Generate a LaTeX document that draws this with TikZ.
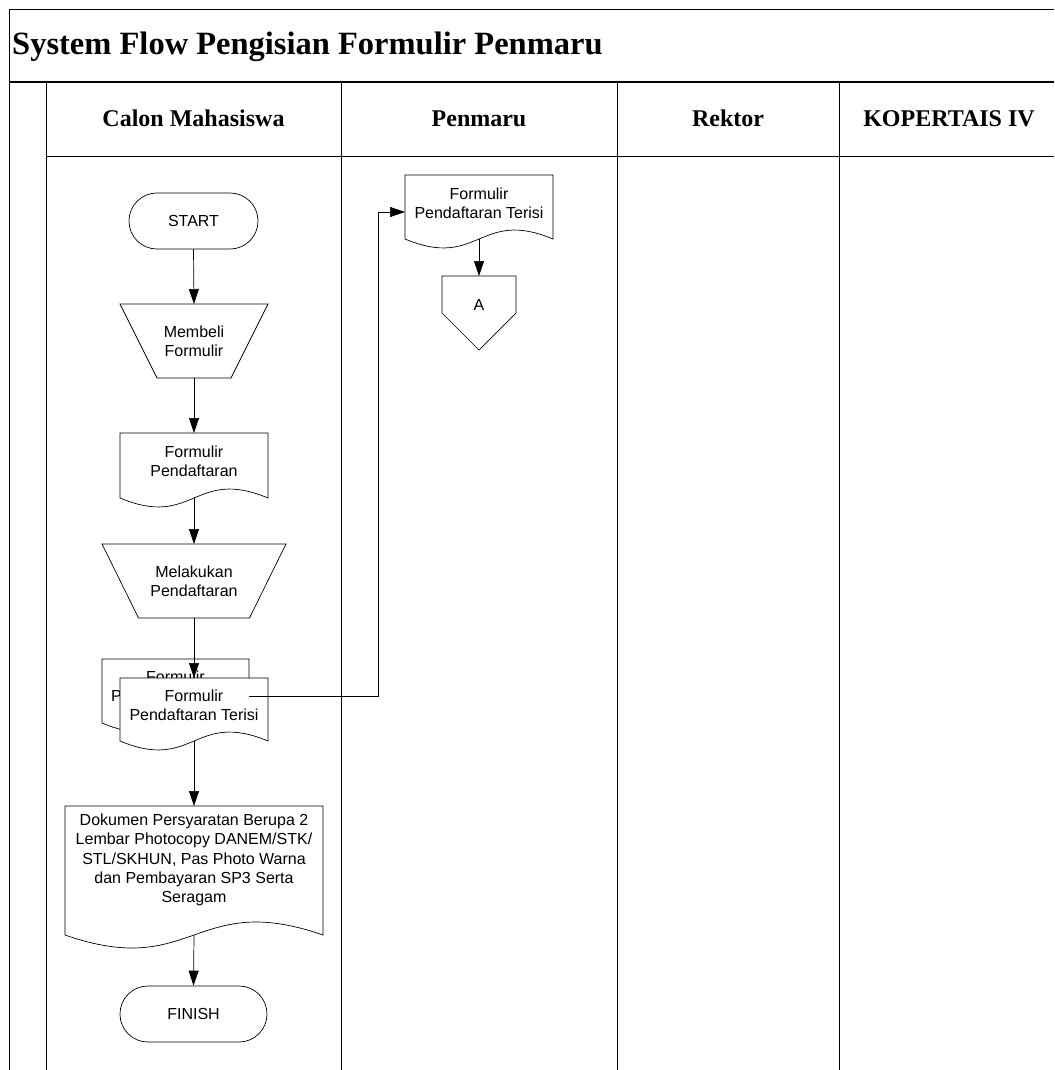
\documentclass[tikz,border=0pt]{standalone}
\usepackage{fontspec}
\setmainfont{Liberation Serif}
\newfontfamily\arialf{Liberation Sans}
\usetikzlibrary{arrows.meta,calc}
\newcommand\mydoc[2]{\path[shp] (#1.north west) -- (#1.north east) -- (#1.south east) .. controls ($(#1.south)+(0,-#2)$) and ($(#1.south)+(0,#2)$) .. (#1.south west) -- cycle;}
\newcommand\mymanop[2]{\path[shp] (#1.north west) -- (#1.north east) -- ($(#1.south east)+(-#2,0)$) -- ($(#1.south west)+(#2,0)$) -- cycle;}
\begin{document}
\begin{tikzpicture}[x=1pt,y=-1pt,
  frame/.style={line width=0.9pt,draw=black},
  shp/.style={draw=black,line width=0.7pt,fill=white},
  hold/.style={inner sep=0pt,outer sep=0pt},
  txt/.style={font=\arialf\fontsize{16}{19.2}\selectfont,align=center,inner sep=0pt},
  term/.style={shp,txt,rounded corners=27.9pt,minimum width=148pt,minimum height=56pt},
  hdr/.style={font=\bfseries\fontsize{24}{28}\selectfont,anchor=base,inner sep=0pt},
  arr/.style={draw=black,line width=0.7pt,-{Triangle[length=15pt,width=10pt]}}
]
\useasboundingbox (0,0) rectangle (1054,1070);
% frame and lanes
\draw[frame] (9,1070) -- (9,9) -- (1054,9);
\draw[line width=1.6pt] (9,82) -- (1054,82);
\draw[frame] (46,82) -- (46,1070);
\draw[frame] (46,156) -- (1054,156);
\draw[frame] (341,82) -- (341,1070);
\draw[frame] (617,82) -- (617,1070);
\draw[frame] (839,82) -- (839,1070);
\node[anchor=base west,inner sep=0pt,font=\bfseries\fontsize{32.5}{36}\selectfont] (title) at (12,55) {System Flow Pengisian Formulir Penmaru};
\node[hdr] (h1) at (193.5,127) {Calon Mahasiswa};
\node[hdr] (h2) at (479,127) {Penmaru};
\node[hdr] (h3) at (728,127) {Rektor};
\node[hdr] (h4) at (949,127) {KOPERTAIS IV};

% START
\node[term,minimum width=129pt] (start) at (193.5,221) {START};
% Membeli Formulir
\node[hold,minimum width=148pt,minimum height=74pt] (beli) at (194,341) {};
\mymanop{beli}{37}
\node[txt] (belit) at (beli.center) {Membeli\\Formulir};
% Formulir Pendaftaran
\node[hold,minimum width=148pt,minimum height=65pt] (fp) at (194,465.5) {};
\mydoc{fp}{31}
\node[txt] (fpt) at ($(fp.center)+(0,-4.5)$) {Formulir\\Pendaftaran};
% Melakukan Pendaftaran
\node[hold,minimum width=184pt,minimum height=74pt] (mel) at (194,581) {};
\mymanop{mel}{36.5}
\node[txt] (melt) at (mel.center) {Melakukan\\Pendaftaran};
% multi document
\node[hold,minimum width=147pt,minimum height=64pt] (mb) at (175.5,691) {};
\mydoc{mb}{31}
\node[txt] (mbt) at ($(mb.center)+(0,-5)$) {Formulir\\Pendaftaran Terisi};
\node[hold,minimum width=148pt,minimum height=63pt] (mf) at (194,709.5) {};
\mydoc{mf}{31}
\node[txt] (mft) at ($(mf.center)+(0,-4.5)$) {Formulir\\Pendaftaran Terisi};
% Dokumen
\node[hold,minimum width=258pt,minimum height=129pt] (dok) at (194,870.5) {};
\mydoc{dok}{45}
\node[txt] (dokt) at ($(dok.center)+(0,-10.5)$) {Dokumen Persyaratan Berupa 2\\Lembar Photocopy DANEM/STK/\\STL/SKHUN, Pas Photo Warna\\dan Pembayaran SP3 Serta\\Seragam};
% FINISH
\node[term,minimum width=147pt] (fin) at (193.5,1014) {FINISH};
% Penmaru doc
\node[hold,minimum width=148pt,minimum height=64pt] (pen) at (479,207) {};
\mydoc{pen}{31}
\node[txt] (pent) at ($(pen.center)+(0,-4)$) {Formulir\\Pendaftaran Terisi};
% Off-page connector A
\node[hold,minimum width=74pt,minimum height=74pt] (A) at (479,313) {};
\path[shp] (A.north west) -- (A.north east) -- (A.east) -- (A.south) -- (A.west) -- cycle;
\node[txt] (At) at (479,305) {A};

% connectors
\draw[arr] (start.south) -- (beli.north);
\draw[arr] (beli.south) -- (fp.north);
\draw[arr] (fp.south) -- (mel.north);
\draw[arr] (mel.south) -- (mf.north);
\draw[arr] (mf.south) -- (dok.north);
\draw[arr] (dok.south) -- (fin.north);
\draw[arr] (pen.south) -- (A.north);
\coordinate (bendx) at (378,0);
\coordinate (mbout) at ([yshift=-5pt]mb.east);
\coordinate (penin) at ([yshift=-5pt]pen.west);
\draw[arr] (mbout) -- (mbout -| bendx) |- (penin);
\end{tikzpicture}
\end{document}
